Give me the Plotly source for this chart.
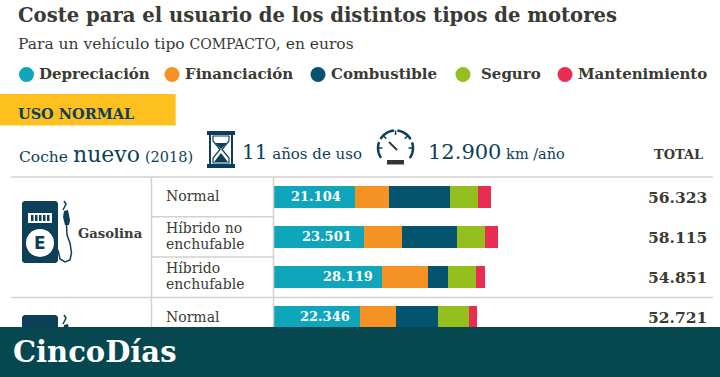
import math
import plotly.graph_objects as go

W, H = 720, 377
rows = ["Gasolina Normal", "Gasolina Híbrido no enchufable", "Gasolina Híbrido enchufable", "Segundo Normal"]
series_names = ["Depreciación", "Financiación", "Combustible", "Seguro", "Mantenimiento"]
colors = ["#0fa5bb", "#f49323", "#04546f", "#94bf1f", "#e92d52"]
depreciacion = [21104, 23501, 28119, 22346]
financiacion = [8830, 9870, 11770, 9270]
combustible = [15840, 14200, 5380, 11070]
seguro = [7270, 7270, 7270, 7970]
mantenimiento = [3279, 3274, 2312, 2065]
totals = [56323, 58115, 54851, 52721]
values = [depreciacion, financiacion, combustible, seguro, mantenimiento]

SERIF = "DejaVu Serif"
DARK = "#3a3a35"
NAVY = "#0e3f58"
LINE = "#d3d1c9"
BANNER = "#07474f"

def fx(x): return x / W
def fy(y): return 1 - y / H
def es(n): return f"{n:,}".replace(",", ".")

fig = go.Figure()
for name, col, vals in zip(series_names, colors, values):
    fig.add_bar(y=rows, x=vals, name=name, orientation="h", marker=dict(color=col, line_width=0),
                showlegend=False, hoverinfo="name+x")

shapes = []
ann = []

def rect(x0, y0, x1, y1, c):
    shapes.append(dict(type="rect", xref="paper", yref="paper", x0=fx(x0), x1=fx(x1), y0=fy(y1), y1=fy(y0),
                       fillcolor=c, line_width=0, layer="above"))
def circle(cx, cy, r, c):
    shapes.append(dict(type="circle", xref="paper", yref="paper", x0=fx(cx-r), x1=fx(cx+r), y0=fy(cy+r), y1=fy(cy-r),
                       fillcolor=c, line_width=0, layer="above"))
def line(x0, y0, x1, y1, c=LINE, w=1.5):
    shapes.append(dict(type="line", xref="paper", yref="paper", x0=fx(x0), x1=fx(x1), y0=fy(y0), y1=fy(y1),
                       line=dict(color=c, width=w), layer="above"))
def path(pts, fill=None, c=NAVY, w=1.5, close=False):
    d = "M " + " L ".join(f"{fx(x):.5f},{fy(y):.5f}" for x, y in pts) + (" Z" if close else "")
    s = dict(type="path", xref="paper", yref="paper", path=d, layer="above")
    if fill:
        s["fillcolor"] = fill
        s["line_width"] = 0
    else:
        s["line"] = dict(color=c, width=w)
    shapes.append(s)
def text(x, y, t, size, color=DARK, anchor="left", font=SERIF):
    ann.append(dict(xref="paper", yref="paper", x=fx(x), y=fy(y), text=t, showarrow=False, xanchor=anchor,
                    yanchor="middle", align=anchor, xshift=0, borderpad=0, borderwidth=0,
                    font=dict(family=font, size=size, color=color)))

# table lines
line(11, 177, 713, 177)
line(11, 297.5, 713, 297.5)
line(151.5, 177, 151.5, 327)
line(273.5, 177, 273.5, 327)
line(151.5, 216.8, 273.5, 216.8)
line(151.5, 257, 273.5, 257)

# yellow band
rect(0, 94, 175.7, 125.5, "#fdc01f")

# legend dots and text
for cx, tx, name, col in zip([26.5, 172, 318, 463, 565], [39, 185, 331, 481, 578], series_names, colors):
    circle(cx, 74.5, 7.5, col)
    text(tx, 74, f"<b>{name}</b>", 15)

# pump icon
def pump(oy):
    w = 36
    pts = [(22 + 2, oy), (22 + w - 2, oy), (22 + w, oy + 2), (22 + w, oy + 60), (22 + w - 2, oy + 62),
           (24, oy + 62), (22, oy + 60), (22, oy + 2)]
    path(pts, fill=NAVY, close=True)
    rect(28, oy + 12, 52, oy + 22, "#ffffff")
    for i in range(5):
        rect(31 + i * 4, oy + 14, 33.5 + i * 4, oy + 20, NAVY)
    circle(40, oy + 42, 14, "#ffffff")
    pts = [(58, oy + 49), (60, oy + 58), (65, oy + 61), (70, oy + 59), (71.5, oy + 52),
           (70, oy + 42), (67, oy + 34), (66.5, oy + 24)]
    path(pts)
    path([(63, oy + 9), (66, oy + 3), (64, oy + 0)])
    path([(64, oy + 10), (68, oy + 9), (70, oy + 19), (69, oy + 24), (65, oy + 24), (63, oy + 16)], fill=NAVY, close=True)
pump(201)
text(39.5, 243, "<b>E</b>", 17, NAVY, "center", "DejaVu Sans")
pump(315)

# hourglass
rect(207, 131, 235, 135, NAVY)
rect(207, 164, 235, 168, NAVY)
rect(209, 133, 211, 166, NAVY)
rect(231, 133, 233, 166, NAVY)
path([(213, 136), (229, 136), (229, 141), (222, 149.5), (229, 158), (229, 163), (213, 163), (213, 158), (220, 149.5), (213, 141)], c=NAVY, w=1.2, close=True)
path([(215, 143), (227, 143), (221, 149)], fill=NAVY, close=True)
path([(221, 153), (228, 162), (214, 162)], fill=NAVY, close=True)

# gauge
def arc(a0, a1):
    return [(395.5 + 17.5 * math.cos(math.radians(a)), 148 - 17.5 * math.sin(math.radians(a))) for a in range(a0, a1 + 1, 6)]
path(arc(-35, 20), w=2.5)
path(arc(30, 85), w=2.5)
path(arc(95, 150), w=2.5)
path(arc(160, 215), w=2.5)
path([(389, 142), (397, 150)], c=DARK, w=2)
for a in (90, 45, 135, 0, 180):
    ca, sa = math.cos(math.radians(a)), math.sin(math.radians(a))
    path([(395.5 + 17.5 * ca, 148 - 17.5 * sa), (395.5 + 13 * ca, 148 - 13 * sa)], w=1.5)
rect(387, 160, 404, 164.5, "#33332f")

# banner on top of bars and icons
rect(0, 327, 720, 377, BANNER)

# titles
text(18, 16, "<b>Coste para el usuario de los distintos tipos de motores</b>", 19.6)
text(18, 44, 'Para un vehículo tipo <span style="font-size:14px">COMPACTO</span>, en euros', 15.5)
text(18, 113, "<b>USO NORMAL</b>", 14.5, NAVY)
text(19, 154, 'Coche <span style="font-size:22px">nuevo</span> <span style="font-size:14.5px">(2018)</span>', 15.5, NAVY)
text(242, 152, '<span style="font-size:20px">11</span> años de uso', 15, NAVY)
text(428, 152, '<span style="font-size:21px">12.900</span> km /año', 14.5, NAVY)
text(703, 154, "<b>TOTAL</b>", 13, DARK, "right")
text(78, 233, "<b>Gasolina</b>", 13.2, DARK)

sub = [(196, "Normal"), (228, "Híbrido no"), (244, "enchufable"), (268, "Híbrido"), (284, "enchufable"), (317, "Normal")]
for y, t in sub:
    text(166, y, t, 14)

for y, v in zip([197, 237, 277, 317], totals):
    text(707, y, f"<b>{es(v)}</b>", 15.5, DARK, "right")

# value labels, anchored on the data
for r, v, shift in zip(rows, depreciacion, [-12, -10, -7, -8]):
    ann.append(dict(xref="x", yref="y", x=v, y=r, text=f"<b>{es(v)}</b>", showarrow=False, xanchor="right",
                    xshift=shift, font=dict(family=SERIF, size=13, color="#ffffff")))

text(13, 352, "<b>CincoDías</b>", 29, "#ffffff")

SCALE = 0.00385
fig.update_layout(
    width=W, height=H, autosize=False, barmode="stack", bargap=0.4375,
    margin=dict(l=0, r=0, t=0, b=0), paper_bgcolor="#ffffff", plot_bgcolor="rgba(0,0,0,0)",
    xaxis=dict(domain=[274 / W, 1], range=[0, 446 / SCALE], visible=False, fixedrange=True),
    yaxis=dict(domain=[fy(336.8), fy(176.8)], autorange="reversed", categoryorder="array", categoryarray=rows,
               visible=False, fixedrange=True),
    shapes=shapes, annotations=ann, showlegend=False,
)
fig.write_html("out.html", config={"displayModeBar": False},
               post_script="document.body.style.margin='0';document.documentElement.style.overflow='hidden';")
